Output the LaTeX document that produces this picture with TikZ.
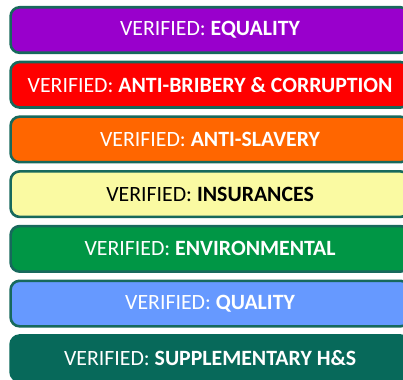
\documentclass[tikz,border=0pt]{standalone}
\usepackage{fontspec}
\setmainfont{Carlito}
\definecolor{bordc}{HTML}{17695C}
\definecolor{cpurple}{HTML}{9900CC}
\definecolor{cred}{HTML}{FF0000}
\definecolor{corange}{HTML}{FF6600}
\definecolor{cyellow}{HTML}{FAFAA2}
\definecolor{cgreen}{HTML}{009645}
\definecolor{cblue}{HTML}{6699FF}
\definecolor{cteal}{HTML}{07695A}
\tikzset{
  vbox/.style={draw=bordc, line width=2.6pt, rounded corners=9pt, minimum width=399pt,
    minimum height=45.5pt, anchor=north west, inner sep=0pt, text=white,
    font=\fontsize{21.8}{24}\selectfont},
}
\begin{document}
\begin{tikzpicture}[x=1pt,y=1pt]
\useasboundingbox (0,0) rectangle (403,-379);
\node[vbox, fill=cpurple] (b1) at (9.3,-6) {VERIFIED: \textbf{EQUALITY}};
\node[vbox, fill=cred] (b2) at (9.3,-60.7) {VERIFIED: \textbf{ANTI-BRIBERY \& CORRUPTION}};
\node[vbox, fill=corange] (b3) at (9.3,-115.4) {VERIFIED: \textbf{ANTI-SLAVERY}};
\node[vbox, fill=cyellow, text=black] (b4) at (9.3,-170.1) {VERIFIED: \textbf{INSURANCES}};
\node[vbox, fill=cgreen] (b5) at (9.3,-224.8) {VERIFIED: \textbf{ENVIRONMENTAL}};
\node[vbox, fill=cblue] (b6) at (9.3,-279.5) {VERIFIED: \textbf{QUALITY}};
\node[vbox, fill=cteal, draw=cteal] (b7) at (9.3,-334.2) {VERIFIED: \textbf{SUPPLEMENTARY H\&S}};
\end{tikzpicture}
\end{document}
